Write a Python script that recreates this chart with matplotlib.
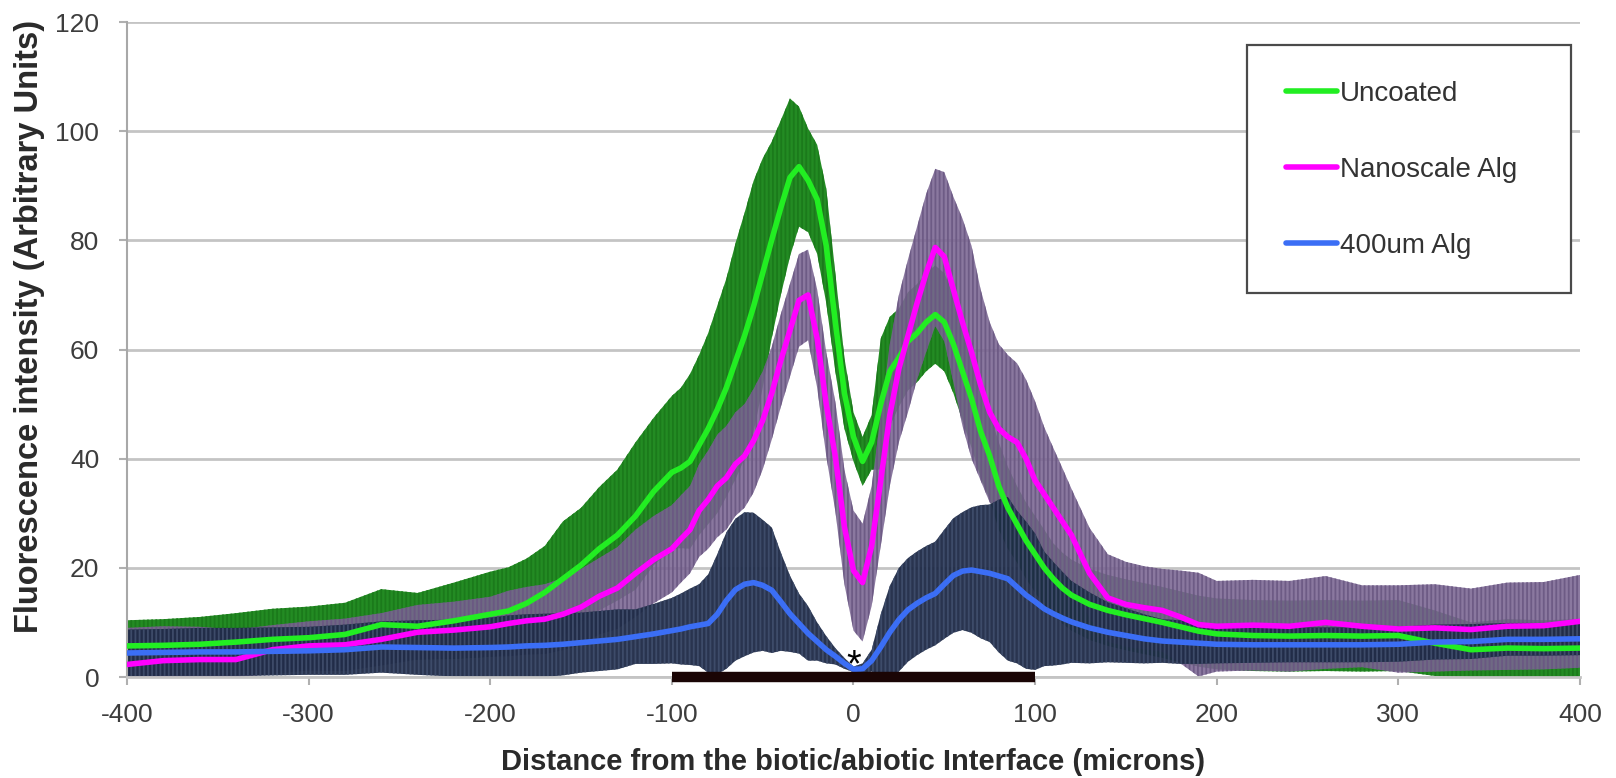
import numpy as np
import matplotlib.pyplot as plt
from matplotlib.patches import Rectangle
from matplotlib.lines import Line2D

plt.rcParams['font.family'] = ['Liberation Sans', 'DejaVu Sans']
plt.rcParams['axes.unicode_minus'] = False
plt.rcParams['hatch.linewidth'] = 1.3

# distance from the interface (microns)
x_um = [-400, -380, -360, -340, -320, -300, -280, -260, -240, -220, -200,
        -190, -180, -170, -160, -150, -140, -130, -120, -110, -100,
        -95, -90, -85, -80, -75, -70, -65, -60, -55, -50,
        -45, -40, -35, -30, -25, -20, -15, -10, -5, 0,
        5, 10, 15, 20, 25, 30, 35, 40, 45, 50,
        55, 60, 65, 70, 75, 80, 85, 90, 95, 100,
        105, 110, 115, 120, 130, 140, 150, 160, 170, 180, 190, 200,
        220, 240, 260, 280, 300, 320, 340, 360, 380, 400]

# Uncoated
uncoated_mean = [5.7, 5.8, 6.0, 6.4, 6.9, 7.2, 7.8, 9.6, 9.3, 10.3, 11.5,
                 12.1, 13.5, 15.5, 18.0, 20.5, 23.5, 26.0, 29.5, 34.0, 37.5,
                 38.3, 39.5, 42.5, 45.5, 49.0, 53.0, 57.8, 62.5, 67.9, 74.0,
                 80.1, 86.0, 91.5, 93.5, 91.0, 87.5, 79.0, 65.0, 52.0, 44.0,
                 39.5, 43.0, 50.0, 56.0, 58.5, 61.5, 63.0, 65.0, 66.4, 65.0,
                 61.0, 56.0, 51.0, 45.0, 40.5, 35.0, 31.0, 28.0, 25.0, 22.5,
                 20.0, 18.0, 16.3, 15.0, 13.3, 12.2, 11.4, 10.7, 10.0, 9.2, 8.4, 7.9,
                 7.6, 7.5, 7.6, 7.5, 7.6, 6.2, 5.0, 5.3, 5.2, 5.3]
uncoated_err = [4.7, 4.8, 5.0, 5.3, 5.6, 5.7, 5.8, 6.5, 6.1, 7.0, 7.8,
                8.0, 8.2, 8.5, 10.5, 10.5, 11.3, 12.0, 13.5, 13.5, 14.0,
                14.7, 16.0, 16.5, 17.5, 19.0, 20.0, 21.6, 22.5, 23.0, 21.0,
                18.0, 16.0, 14.5, 11.0, 9.5, 10.0, 10.5, 9.0, 6.5, 4.5,
                4.5, 5.0, 12.0, 10.0, 9.0, 9.0, 9.0, 9.0, 9.0, 9.0,
                9.0, 9.0, 9.0, 8.5, 8.0, 8.0, 7.5, 7.0, 7.0, 7.0,
                7.0, 6.5, 6.5, 6.5, 6.5, 6.5, 6.5, 6.5, 6.5, 6.5, 6.5, 6.5,
                6.5, 6.5, 6.5, 6.5, 6.5, 6.0, 5.0, 5.3, 5.2, 5.3]

# Nanoscale Alg
nano_mean = [2.3, 3.0, 3.2, 3.2, 5.0, 5.7, 5.9, 6.9, 8.2, 8.6, 9.2,
             9.8, 10.3, 10.6, 11.5, 12.8, 14.8, 16.3, 19.0, 21.5, 23.5,
             25.3, 27.0, 30.5, 32.5, 35.0, 36.5, 39.0, 40.5, 43.3, 47.0,
             52.0, 58.0, 63.5, 69.0, 70.0, 62.0, 50.0, 40.4, 27.5, 19.5,
             17.3, 24.0, 36.0, 48.0, 56.5, 62.5, 68.5, 74.0, 78.7, 77.0,
             71.0, 65.0, 59.5, 53.5, 48.5, 45.5, 44.0, 43.0, 40.0, 36.0,
             33.5, 31.0, 28.5, 26.0, 19.0, 14.5, 13.3, 12.7, 12.2, 11.0, 9.6, 9.3,
             9.5, 9.3, 10.0, 9.3, 8.8, 9.0, 8.7, 9.3, 9.4, 10.2]
nano_err = [6.7, 6.3, 6.0, 5.5, 4.5, 4.5, 4.8, 4.8, 5.0, 5.2, 5.5,
            6.0, 6.2, 6.4, 6.6, 7.0, 7.0, 7.5, 8.0, 8.0, 8.0,
            8.0, 8.0, 8.5, 9.0, 9.4, 9.5, 9.5, 9.5, 9.5, 9.0,
            8.5, 8.5, 8.5, 8.5, 8.3, 9.0, 9.5, 10.0, 10.5, 11.0,
            10.8, 11.0, 12.0, 13.0, 13.5, 14.0, 14.0, 14.5, 14.4, 15.5,
            17.0, 19.0, 19.5, 17.5, 16.5, 15.5, 15.0, 14.5, 14.5, 14.5,
            12.3, 11.0, 9.8, 8.5, 8.3, 8.0, 7.8, 7.6, 7.6, 8.5, 9.5, 8.3,
            8.3, 8.3, 8.5, 7.5, 8.0, 8.0, 7.5, 8.0, 8.0, 8.5]

# 400um Alg
alg400_mean = [4.4, 4.5, 4.6, 4.6, 4.7, 4.8, 5.0, 5.5, 5.4, 5.3, 5.4,
               5.5, 5.7, 5.8, 6.0, 6.3, 6.6, 6.9, 7.4, 7.9, 8.5,
               8.8, 9.2, 9.5, 9.8, 11.5, 14.0, 16.0, 17.0, 17.3, 16.8,
               15.9, 13.8, 11.6, 9.8, 8.0, 6.5, 5.0, 3.8, 2.5, 1.4,
               1.5, 3.0, 5.5, 8.2, 10.5, 12.3, 13.5, 14.5, 15.3, 17.0,
               18.6, 19.4, 19.6, 19.3, 19.0, 18.5, 18.0, 16.5, 15.0, 13.8,
               12.5, 11.6, 10.8, 10.1, 9.0, 8.2, 7.6, 7.0, 6.6, 6.4, 6.2, 6.0,
               5.9, 5.9, 5.9, 5.9, 6.0, 6.4, 6.5, 6.9, 6.9, 7.0]
alg400_err = [4.3, 4.3, 4.4, 4.4, 4.4, 4.4, 4.6, 4.7, 5.0, 5.2, 5.5,
              5.8, 5.8, 5.8, 5.7, 5.5, 5.5, 5.5, 5.0, 5.5, 6.0,
              6.5, 7.0, 7.5, 9.0, 11.0, 12.5, 13.0, 13.2, 12.8, 12.0,
              11.5, 9.0, 7.0, 5.5, 5.0, 3.5, 2.5, 1.5, 1.0, 0.5,
              1.0, 2.0, 6.0, 8.5, 9.5, 9.5, 9.5, 9.5, 9.5, 10.0,
              10.5, 10.8, 11.5, 12.2, 12.6, 14.0, 15.0, 14.0, 13.5, 12.5,
              10.5, 9.5, 8.5, 7.5, 6.5, 5.5, 5.0, 4.5, 4.0, 4.0, 3.8, 3.5,
              3.3, 3.2, 3.2, 3.2, 3.2, 3.2, 3.2, 3.0, 3.0, 3.0]

labels = ['Uncoated', 'Nanoscale Alg', '400um Alg']
interface_span = [-100, 100]

# (line colour, band colour, stripe colour, band alpha)
styles = [('#22ee22', '#238b23', '#1b7a1b', 1.0),
          ('#ff00ff', '#7a6592', '#6a5782', 0.88),
          ('#3b6ef5', '#1d2945', '#3f4d6b', 0.95)]

x = np.array(x_um, dtype=float)
series = [(np.array(uncoated_mean), np.array(uncoated_err)),
          (np.array(nano_mean), np.array(nano_err)),
          (np.array(alg400_mean), np.array(alg400_err))]

fig = plt.figure(figsize=(16.16, 7.78), dpi=100)
ax = fig.add_axes([0.0786, 0.1298, 0.8991, 0.8419])

# error bands first, then the mean lines on top
for (mean, err), (lc, bc, sc, a) in zip(series, styles):
    ax.fill_between(x, np.clip(mean - err, 0, None), mean + err,
                    facecolor=bc, edgecolor=sc, hatch='||||', linewidth=0,
                    alpha=a, zorder=2)
handles = []
for (mean, err), (lc, bc, sc, a), lab in zip(series, styles, labels):
    ax.plot(x, mean, color=lc, lw=4.0, zorder=4, solid_joinstyle='round')
    handles.append(Line2D([0], [0], color=lc, lw=4.0, solid_capstyle='round', label=lab))

# bar marking the interface region, asterisk at the 400um minimum
ax.plot(interface_span, [0, 0], color='#1a0505', lw=7.5, solid_capstyle='butt',
        clip_on=False, zorder=6)
i_min = int(np.argmin(series[2][0]))
ax.text(x[i_min], series[2][0][i_min] - 1.2, '*', ha='center', va='baseline',
        fontsize=27, color='black', zorder=6)

ax.set_xlim(-400, 400)
ax.set_ylim(0, 120)
ax.set_xticks(np.arange(-400, 401, 100))
ax.set_yticks(np.arange(0, 121, 20))
ax.grid(axis='y', color='#c4c4c4', lw=2.0)
ax.grid(axis='x', visible=False)
ax.set_axisbelow(True)

for s in ['top', 'right']:
    ax.spines[s].set_visible(False)
ax.spines['left'].set_color('#a8a8a8')
ax.spines['left'].set_linewidth(1.5)
ax.spines['bottom'].set_color('#c4c4c4')
ax.spines['bottom'].set_linewidth(2.0)

ax.tick_params(axis='both', length=6, width=1.5, color='#b0b0b0',
               labelsize=19, labelcolor='#3d3d3d')
ax.tick_params(axis='y', pad=14)
ax.tick_params(axis='x', pad=13)

ax.set_xlabel('Distance from the biotic/abiotic Interface (microns)',
              fontsize=21, fontweight='bold', color='#2a2a2a')
ax.set_ylabel('Fluorescence intensity (Arbitrary Units)',
              fontsize=23.5, fontweight='bold', color='#2a2a2a')
ax.xaxis.set_label_coords(0.5, -0.108)
ax.yaxis.set_label_coords(-0.0564, 0.535)

frame = Rectangle((0.771, 0.586), 0.2226, 0.379, transform=ax.transAxes,
                  facecolor='white', edgecolor='#4a4a4a', lw=1.6, zorder=7,
                  clip_on=False)
ax.add_patch(frame)
leg = ax.legend(handles=handles, loc='center left', bbox_to_anchor=(0.7977, 0.774),
                frameon=False, fontsize=20, handlelength=1.85, handletextpad=0.1,
                labelspacing=1.8, borderpad=0, borderaxespad=0)
leg.set_zorder(8)
for t in leg.get_texts():
    t.set_color('#333333')

fig.savefig('out.png', dpi=100)
